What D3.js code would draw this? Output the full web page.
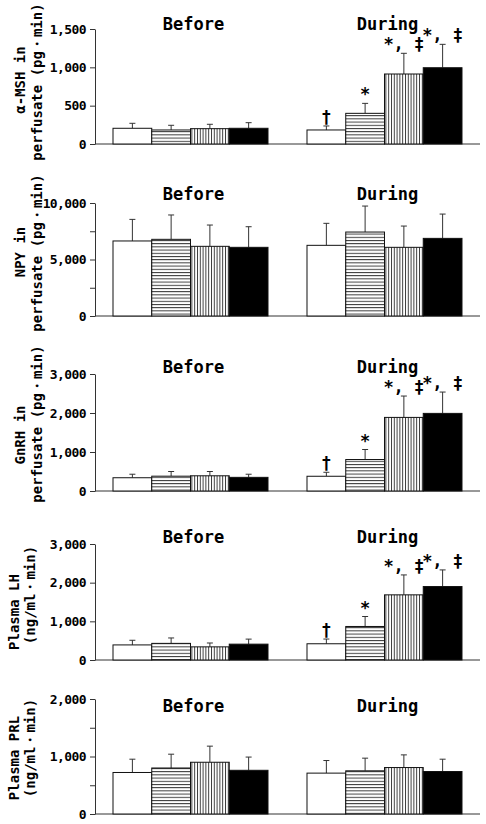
<!DOCTYPE html>
<html><head><meta charset="utf-8">
<script src="https://cdn.jsdelivr.net/npm/d3@7/dist/d3.min.js"></script>
<style>
body{margin:0;background:#fff;}
text{font-family:"DejaVu Sans Mono",monospace;fill:#000;}
</style></head>
<body>
<script>
// ---- data ----
const periods = ["Before", "During"];
const groups = ["G1", "G2", "G3", "G4"];

const mshMean = [[205, 183, 200, 205], [183, 400, 913, 995]];
const mshSE   = [[65, 61, 57, 73], [52, 130, 270, 305]];
const mshTicks = [0, 500, 1000, 1500];

const npyMean = [[6640, 6785, 6165, 6077], [6254, 7430, 6077, 6870]];
const npySE   = [[1910, 2155, 1885, 1823], [1946, 2300, 1883, 2150]];
const npyTicks = [0, 5000, 10000];
const npyMinor = [2500, 7500];

const gnrhMean = [[340, 380, 390, 350], [378, 807, 1887, 1990]];
const gnrhSE   = [[90, 120, 110, 80], [102, 257, 548, 547]];
const gnrhTicks = [0, 1000, 2000, 3000];

const lhMean = [[390, 430, 340, 410], [420, 867, 1685, 1900]];
const lhSE   = [[120, 140, 100, 130], [122, 258, 515, 430]];
const lhTicks = [0, 1000, 2000, 3000];

const prlMean = [[722, 800, 900, 760], [711, 751, 808, 739]];
const prlSE   = [[231, 240, 280, 230], [219, 220, 220, 214]];
const prlTicks = [0, 1000, 2000];
const prlMinor = [500, 1500];

const duringMarks = ["†", "*", "*, ‡", "*, ‡"];

// ---- layout ----
const panels = [
  {mean: mshMean, se: mshSE, max: 1500, ticks: mshTicks, minor: [], y0: 144, y1: 29, titleY: 30,
   label: ["α-MSH in", "perfusate (pg・min)"], labelX: [20, 37], labelY: [80, 82], marks: true},
  {mean: npyMean, se: npySE, max: 10000, ticks: npyTicks, minor: npyMinor, y0: 316, y1: 203, titleY: 200,
   label: ["NPY in", "perfusate (pg・min)"], labelX: [20, 37], labelY: [252, 253], marks: false},
  {mean: gnrhMean, se: gnrhSE, max: 3000, ticks: gnrhTicks, minor: [], y0: 491, y1: 374, titleY: 373,
   label: ["GnRH in", "perfusate (pg・min)"], labelX: [20, 37], labelY: [435, 424], marks: true},
  {mean: lhMean, se: lhSE, max: 3000, ticks: lhTicks, minor: [], y0: 660, y1: 544, titleY: 543,
   label: ["Plasma LH", "(ng/ml・min)"], labelX: [14, 30], labelY: [612, 595], marks: true},
  {mean: prlMean, se: prlSE, max: 2000, ticks: prlTicks, minor: prlMinor, y0: 814, y1: 699, titleY: 712,
   label: ["Plasma PRL", "(ng/ml・min)"], labelX: [14, 30], labelY: [758, 748], marks: false}
];

const svg = d3.select("body").append("svg").attr("width", 486).attr("height", 824);
const defs = svg.append("defs");
const hs = defs.append("pattern").attr("id", "hs").attr("patternUnits", "userSpaceOnUse")
  .attr("width", 6).attr("height", 3.2);
hs.append("rect").attr("width", 6).attr("height", 3.2).attr("fill", "#fff");
hs.append("line").attr("x1", 0).attr("x2", 6).attr("y1", 0.5).attr("y2", 0.5)
  .attr("stroke", "#222").attr("stroke-width", 0.9);
const vs = defs.append("pattern").attr("id", "vs").attr("patternUnits", "userSpaceOnUse")
  .attr("width", 2.8).attr("height", 6);
vs.append("rect").attr("width", 2.8).attr("height", 6).attr("fill", "#fff");
vs.append("line").attr("y1", 0).attr("y2", 6).attr("x1", 0.5).attr("x2", 0.5)
  .attr("stroke", "#222").attr("stroke-width", 0.9);
const fills = ["#fff", "url(#hs)", "url(#vs)", "#000"];

const axisX = 95;
const x0 = d3.scaleBand().domain(periods).range([axisX, 480]).paddingInner(0.201).paddingOuter(0.0928);
const x1 = d3.scaleBand().domain(groups).range([0, x0.bandwidth()]).padding(0);

panels.forEach(p => {
  const y = d3.scaleLinear().domain([0, p.max]).range([p.y0, p.y1]);
  const g = svg.append("g");

  // baseline
  g.append("line").attr("x1", axisX).attr("x2", 480).attr("y1", y(0)).attr("y2", y(0))
    .attr("stroke", "#333").attr("stroke-width", 1);

  // axis
  const ax = g.append("g").attr("transform", `translate(${axisX},0)`)
    .call(d3.axisLeft(y).tickValues(p.ticks).tickSize(5).tickSizeOuter(0).tickFormat(d3.format(",")));
  ax.select(".domain").attr("stroke", "#333");
  ax.selectAll(".tick line").attr("stroke", "#333");
  ax.selectAll("text").attr("font-size", 13).attr("font-family", "DejaVu Sans Mono").attr("dx", -1)
    .attr("letter-spacing", -0.6).attr("font-weight", "bold");
  if (p.minor.length) {
    const mx = g.append("g").attr("transform", `translate(${axisX},0)`)
      .call(d3.axisLeft(y).tickValues(p.minor).tickSize(5).tickSizeOuter(0).tickFormat(""));
    mx.select(".domain").remove();
    mx.selectAll(".tick line").attr("stroke", "#333");
  }

  // titles
  g.selectAll(".ttl").data(periods).join("text")
    .attr("x", d => x0(d) + x0.bandwidth() / 2 + 3).attr("y", p.titleY)
    .attr("text-anchor", "middle").attr("font-size", 17).attr("font-weight", "bold")
    .text(d => d);

  // bars
  periods.forEach((per, pi) => {
    const gg = g.append("g").attr("transform", `translate(${x0(per)},0)`);
    groups.forEach((gr, gi) => {
      const v = p.mean[pi][gi], e = p.se[pi][gi];
      const bx = x1(gr), bw = x1.bandwidth(), cx = bx + bw / 2;
      gg.append("line").attr("x1", cx).attr("x2", cx).attr("y1", y(v)).attr("y2", y(v + e))
        .attr("stroke", "#333").attr("stroke-width", 1);
      gg.append("line").attr("x1", cx - 3).attr("x2", cx + 3).attr("y1", y(v + e)).attr("y2", y(v + e))
        .attr("stroke", "#333").attr("stroke-width", 1);
      gg.append("rect").attr("x", bx).attr("y", y(v)).attr("width", bw).attr("height", y(0) - y(v))
        .attr("fill", fills[gi]).attr("stroke", "#111").attr("stroke-width", 1);
      if (p.marks && per === "During") {
        gg.append("text").attr("x", cx).attr("y", y(v + e) - 3).attr("text-anchor", "middle")
          .attr("font-size", 17).attr("font-weight", "bold").text(duringMarks[gi]);
      }
    });
  });

  // y label
  p.label.forEach((t, i) => {
    g.append("text").attr("transform", `translate(${p.labelX[i]},${p.labelY[i]}) rotate(-90)`)
      .attr("text-anchor", "middle").attr("dominant-baseline", "central")
      .attr("font-size", 14).attr("font-weight", "bold").text(t);
  });
});
</script>
</body></html>
